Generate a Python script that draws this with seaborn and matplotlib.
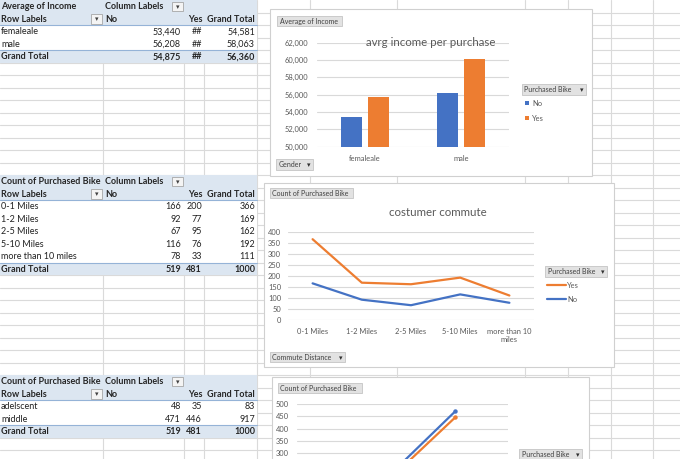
import textwrap
import numpy as np
import pandas as pd
import matplotlib
matplotlib.use("Agg")
import matplotlib.pyplot as plt
from matplotlib.patches import Rectangle
from matplotlib.ticker import FuncFormatter
import seaborn as sns

# ---------------- data ----------------
gender = ["femaleale", "male"]
income_no = [53440, 56208]
income_yes = [55750, 60085]
income_total = ["54,581", "58,063"]
income_grand = ["54,875", "##", "56,360"]

commute = ["0-1 Miles", "1-2 Miles", "2-5 Miles", "5-10 Miles", "more than 10 miles"]
commute_no = [166, 92, 67, 116, 78]
commute_yes = [200, 77, 95, 76, 33]

age = ["adelscent", "middle"]
age_no = [48, 471]
age_yes = [35, 446]

series = ["No", "Yes"]

BLUE = "#4472C4"
ORANGE = "#ED7D31"
LBLUE = "#DCE6F1"
BORD = "#95B3D7"
GRID = "#DADADA"
TXT = "#595959"

sns.set_theme(style="white")
plt.rcParams["font.family"] = ["Lato", "DejaVu Sans"]

W, H = 680, 459
fig = plt.figure(figsize=(W / 100, H / 100), dpi=100)
bg = fig.add_axes([0, 0, 1, 1])
bg.set_xlim(0, W)
bg.set_ylim(H, 0)
bg.axis("off")


def rect(x0, y0, x1, y1):
    return [x0 / W, 1 - y1 / H, (x1 - x0) / W, (y1 - y0) / H]


RH = 12.5
cols = [103, 184, 204, 257, 310, 397, 525, 568, 611, 653]
# spreadsheet grid
for k in range(1, 40):
    bg.plot([0, W], [k * RH, k * RH], color=GRID, lw=0.8, zorder=1)
for c in cols:
    bg.plot([c, c], [0, H], color=GRID, lw=0.8, zorder=1)

FS = 6.5


def dropdown(x, y):
    bg.add_patch(Rectangle((x, y), 11, 9.5, facecolor="#f4f4f4", edgecolor="#a6a6a6", lw=0.6, zorder=5))
    bg.text(x + 5.5, y + 5, "▾", fontsize=5, ha="center", va="center", color="#404040", zorder=6)


def pivot(row0, title, rows, cells, totals):
    y0 = row0 * RH
    n = len(rows)
    y_end = y0 + (n + 3) * RH
    bg.add_patch(Rectangle((0, y0), 256.5, y_end - y0, facecolor="white", edgecolor="none", zorder=2))
    bg.add_patch(Rectangle((0, y0), 256.5, 2 * RH, facecolor=LBLUE, edgecolor="none", zorder=3))
    bg.add_patch(Rectangle((0, y_end - RH), 256.5, RH, facecolor=LBLUE, edgecolor="none", zorder=3))
    bg.plot([0, 256.5], [y0 + 2 * RH, y0 + 2 * RH], color=BORD, lw=0.8, zorder=4)
    bg.plot([0, 256.5], [y_end - RH, y_end - RH], color=BORD, lw=0.8, zorder=4)
    cy = lambda r: y0 + r * RH + RH / 2 + 0.5
    bg.text(1, cy(0), title, fontsize=FS, fontweight="bold", va="center", zorder=6)
    bg.text(105, cy(0), "Column Labels", fontsize=FS, fontweight="bold", va="center", zorder=6)
    dropdown(172, y0 + 1.5)
    bg.text(1, cy(1), "Row Labels", fontsize=FS, fontweight="bold", va="center", zorder=6)
    dropdown(91, y0 + RH + 1.5)
    bg.text(105, cy(1), "No", fontsize=FS, fontweight="bold", va="center", zorder=6)
    bg.text(203, cy(1), "Yes", fontsize=FS, fontweight="bold", va="center", ha="right", zorder=6)
    bg.text(255, cy(1), "Grand Total", fontsize=FS, fontweight="bold", va="center", ha="right", zorder=6)
    for i, (lab, vals) in enumerate(zip(rows, cells)):
        bg.text(1, cy(2 + i), lab, fontsize=FS, va="center", color="#222222", zorder=6)
        for xr, v in zip([181, 202, 255], vals):
            bg.text(xr, cy(2 + i), v, fontsize=FS, va="center", ha="right", color="#222222", zorder=6)
    bg.text(1, cy(n + 2), "Grand Total", fontsize=FS, fontweight="bold", va="center", zorder=6)
    for xr, v in zip([181, 202, 255], totals):
        bg.text(xr, cy(n + 2), v, fontsize=FS, fontweight="bold", va="center", ha="right", zorder=6)


pivot(0, "Average of Income", gender,
      [[f"{a:,}", "##", t] for a, t in zip(income_no, income_total)], income_grand)
pivot(14, "Count of Purchased Bike", commute,
      [[str(a), str(b), str(a + b)] for a, b in zip(commute_no, commute_yes)],
      [str(sum(commute_no)), str(sum(commute_yes)), str(sum(commute_no) + sum(commute_yes))])
pivot(30, "Count of Purchased Bike", age,
      [[str(a), str(b), str(a + b)] for a, b in zip(age_no, age_yes)],
      [str(sum(age_no)), str(sum(age_yes)), str(sum(age_no) + sum(age_yes))])


def chartbox(x0, y0, x1, y1):
    bg.add_patch(Rectangle((x0 + 1, y0 + 1), x1 - x0, y1 - y0, facecolor="#ececec", edgecolor="none", zorder=7))
    bg.add_patch(Rectangle((x0, y0), x1 - x0, y1 - y0, facecolor="white", edgecolor="#d0d0d0", lw=0.8, zorder=8))


def button(x0, y0, x1, y1, label, arrow=False):
    bg.add_patch(Rectangle((x0, y0), x1 - x0, y1 - y0, facecolor="#e2e2e2", edgecolor="#c4c4c4", lw=0.6, zorder=9))
    bg.text(x0 + 2.5, (y0 + y1) / 2 + 0.3, label, fontsize=5, va="center", color="#404040", zorder=10)
    if arrow:
        bg.text(x1 - 4.5, (y0 + y1) / 2 + 0.3, "▾", fontsize=5, va="center", ha="center", color="#303030", zorder=10)


chartbox(270, 9, 592, 176)
chartbox(264, 183, 614, 367)
chartbox(272, 377, 589, 475)

button(277, 16, 342, 26, "Average of Income")
button(522, 84, 586, 95, "Purchased Bike", True)
button(276, 159, 313, 170, "Gender", True)
button(270, 188, 353, 198, "Count of Purchased Bike")
button(545, 266, 607, 277, "Purchased Bike", True)
button(270, 352, 345, 362, "Commute Distance", True)
button(278, 383, 362, 393, "Count of Purchased Bike")
button(519, 449, 582, 460, "Purchased Bike", True)


def style_axes(ax, pad_y, pad_x):
    ax.set_facecolor("none")
    for s in ax.spines.values():
        s.set_visible(False)
    ax.yaxis.grid(True, color="#D9D9D9", lw=0.8)
    ax.xaxis.grid(False)
    ax.set_axisbelow(True)
    ax.tick_params(axis="both", length=0, labelsize=5.4, colors=TXT)
    ax.tick_params(axis="y", pad=pad_y)
    ax.tick_params(axis="x", pad=pad_x)
    ax.set_xlabel("")
    ax.set_ylabel("")


# ---------------- chart 1: bars ----------------
ax1 = fig.add_axes(rect(317, 42.7, 509, 146.7))
ax1.set_zorder(5)
df1 = pd.DataFrame({
    "Gender": gender * 2,
    "Purchased Bike": ["No"] * len(gender) + ["Yes"] * len(gender),
    "Income": income_no + income_yes,
})
sns.barplot(data=df1, x="Gender", y="Income", hue="Purchased Bike", hue_order=series,
            palette=[BLUE, ORANGE], saturation=1, width=0.57, gap=0.23, errorbar=None,
            legend=False, edgecolor=None, linewidth=0, ax=ax1)
ax1.set_ylim(50000, 62000)
ax1.set_yticks(range(50000, 62001, 2000))
ax1.yaxis.set_major_formatter(FuncFormatter(lambda v, p: f"{v:,.0f}"))
ax1.set_xlim(-0.5, 1.5)
style_axes(ax1, 6.5, 6.0)
fig.text(431 / W, 1 - 42 / H, "avrg income per purchase", fontsize=8.3, color=TXT,
         ha="center", va="center", zorder=20)
bg.add_patch(Rectangle((525, 101), 4, 4, facecolor=BLUE, edgecolor="none", zorder=10))
bg.add_patch(Rectangle((525, 116), 4, 4, facecolor=ORANGE, edgecolor="none", zorder=10))
bg.text(532, 103.3, "No", fontsize=5.4, va="center", color=TXT, zorder=10)
bg.text(532, 118.3, "Yes", fontsize=5.4, va="center", color=TXT, zorder=10)

# ---------------- chart 2: stacked lines ----------------
ax2 = fig.add_axes(rect(288, 231.7, 534, 320))
ax2.set_zorder(5)
stack_yes = list(np.add(commute_no, commute_yes))
df2 = pd.DataFrame({
    "Distance": commute * 2,
    "Purchased Bike": ["No"] * len(commute) + ["Yes"] * len(commute),
    "Count": commute_no + stack_yes,
})
sns.lineplot(data=df2, x="Distance", y="Count", hue="Purchased Bike", hue_order=series,
             palette=[BLUE, ORANGE], sort=False, lw=1.6, legend=False, ax=ax2)
ax2.set_ylim(0, 400)
ax2.set_yticks(range(0, 401, 50))
ax2.set_xlim(-0.5, len(commute) - 0.5)
ax2.set_xticks(range(len(commute)))
ax2.set_xticklabels([textwrap.fill(c, 12) for c in commute], linespacing=1.25)
style_axes(ax2, 5.0, 5.6)
fig.text(438 / W, 1 - 213 / H, "costumer commute", fontsize=8.3, color=TXT,
         ha="center", va="center", zorder=20)
bg.plot([547, 566], [285, 285], color=ORANGE, lw=1.6, zorder=10)
bg.plot([547, 566], [299, 299], color=BLUE, lw=1.6, zorder=10)
bg.text(567, 285.3, "Yes", fontsize=5.4, va="center", color=TXT, zorder=10)
bg.text(567, 299.3, "No", fontsize=5.4, va="center", color=TXT, zorder=10)

# ---------------- chart 3: lines with markers (cut off by the screenshot) ----------------
ax3 = fig.add_axes(rect(297, 404.3, 508, 525.3))
ax3.set_zorder(5)
df3 = pd.DataFrame({
    "Age": age * 2,
    "Purchased Bike": ["No"] * len(age) + ["Yes"] * len(age),
    "Count": age_no + age_yes,
})
sns.lineplot(data=df3, x="Age", y="Count", hue="Purchased Bike", hue_order=series,
             palette=[BLUE, ORANGE], sort=False, lw=1.6, marker="o", markersize=3.2,
             markeredgewidth=0, legend=False, ax=ax3)
ax3.set_ylim(0, 500)
ax3.set_xlim(-0.5, len(age) - 0.5)
style_axes(ax3, 5.8, 5.6)
# only the upper part of this chart is inside the screenshot
ax3.set_yticks(range(300, 501, 50))
ax3.set_xticks(range(len(age)))
ax3.set_xticklabels([])

fig.savefig("out.png", dpi=100)
